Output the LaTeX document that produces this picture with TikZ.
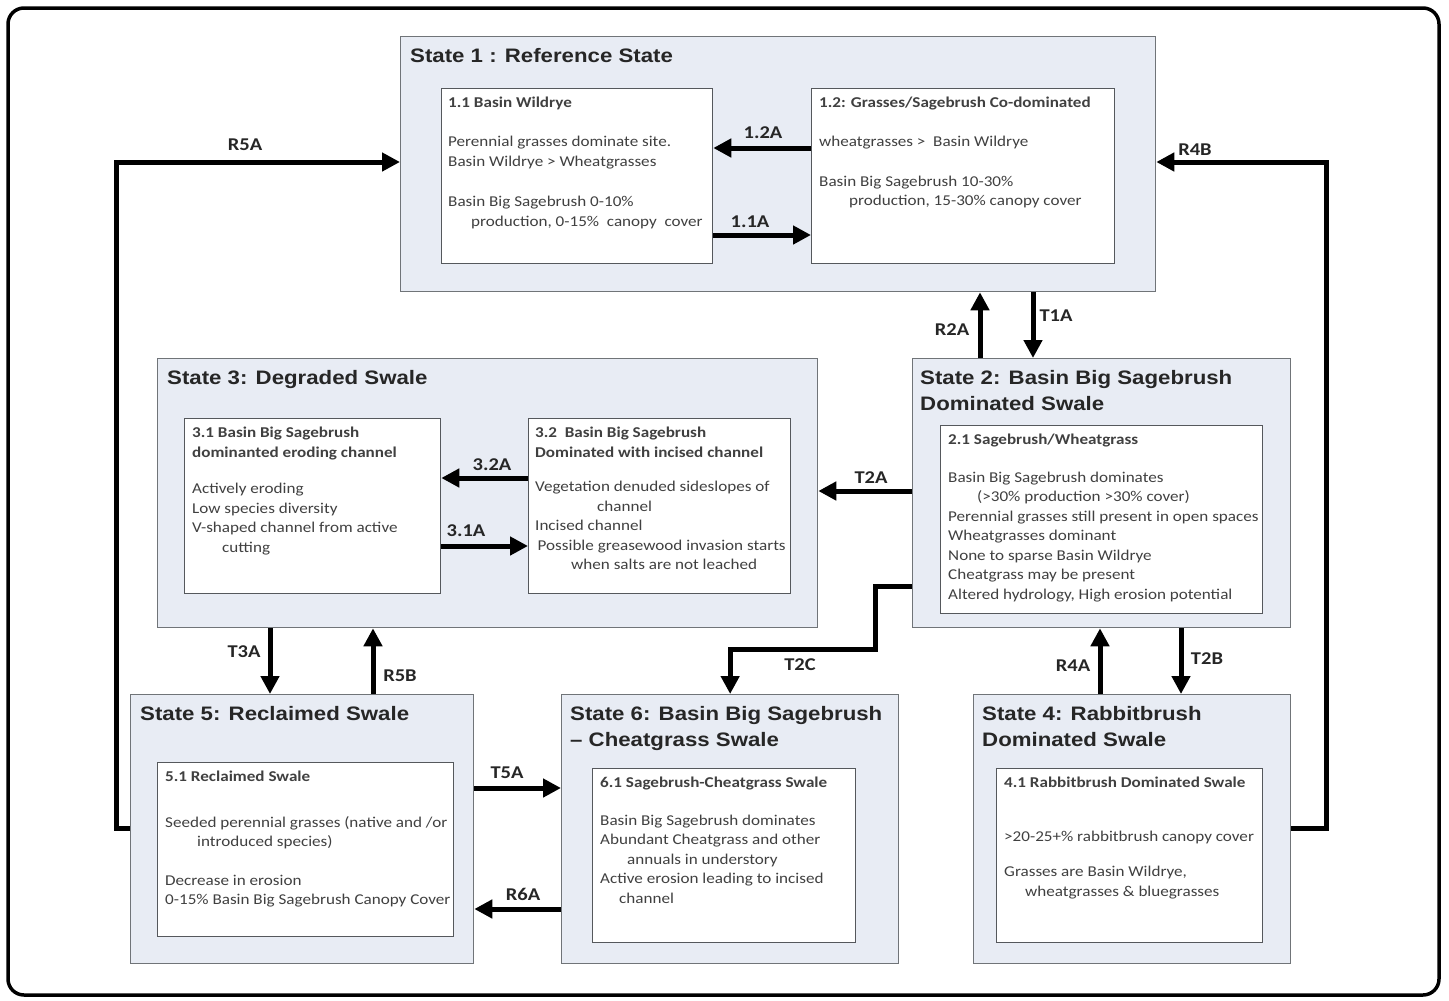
\documentclass[tikz,border=0pt]{standalone}
\usepackage{fontspec}
\setmainfont{Carlito}[FakeStretch=1.14]
\newfontfamily\headfont{Liberation Sans}[FakeStretch=1.14]
\usetikzlibrary{positioning,arrows.meta}

\definecolor{statefill}{HTML}{E8ECF4}
\definecolor{stateline}{HTML}{707478}
\definecolor{boxline}{HTML}{55585C}
\definecolor{txtgray}{HTML}{404040}

\tikzset{
  statebox/.style={draw=stateline, fill=statefill, line width=1.3pt, inner sep=0pt, anchor=north west},
  phasebox/.style={draw=boxline, fill=white, line width=1.3pt, inner sep=0pt, anchor=north west},
  statetitle/.style={font=\headfont\bfseries\fontsize{19.5}{26}\selectfont, text=black!85, anchor=north west, align=left, inner sep=0pt},
  phasetext/.style={font=\fontsize{15}{19.5}\selectfont, text=txtgray, anchor=north west, align=left, inner sep=0pt},
  arr/.style={line width=5pt, -{Triangle[length=18pt,width=18pt]}},
  lbl/.style={font=\bfseries\fontsize{18}{18}\selectfont, text=black!85, inner sep=1pt},
}
\newcommand{\ind}[1]{\hspace*{#1pt}}

\begin{document}
\begin{tikzpicture}[x=1pt,y=-1pt]
\useasboundingbox (0,0) rectangle (1449,1001);
\draw[line width=3.5pt, rounded corners=16pt] (8,8) rectangle (1439,995);

% states
\node[statebox, minimum width=755pt, minimum height=255pt] (s1) at (400,36) {};
\node[statebox, minimum width=378pt, minimum height=269pt] (s2) at (912,358) {};
\node[statebox, minimum width=660pt, minimum height=269pt] (s3) at (157,358) {};
\node[statebox, minimum width=343pt, minimum height=269pt] (s5) at (130,694) {};
\node[statebox, minimum width=337pt, minimum height=269pt] (s6) at (561,694) {};
\node[statebox, minimum width=317pt, minimum height=269pt] (s4) at (973,694) {};

\node[statetitle, below right=12pt and 10pt of s1.north west] (s1t) {State 1 : Reference State};
\node[statetitle, below right=12pt and 8pt of s2.north west] (s2t) {State 2: Basin Big Sagebrush\\Dominated Swale};
\node[statetitle, below right=12pt and 10pt of s3.north west] (s3t) {State 3: Degraded Swale};
\node[statetitle, below right=12pt and 10pt of s5.north west] (s5t) {State 5: Reclaimed Swale};
\node[statetitle, below right=12pt and 9pt of s6.north west] (s6t) {State 6: Basin Big Sagebrush\\– Cheatgrass Swale};
\node[statetitle, below right=12pt and 9pt of s4.north west] (s4t) {State 4: Rabbitbrush\\Dominated Swale};

% community phases
\node[phasebox, minimum width=271pt, minimum height=175pt] (b11) at (441,88) {};
\node[phasebox, minimum width=303pt, minimum height=175pt] (b12) at (811,88) {};
\node[phasebox, minimum width=322pt, minimum height=188pt] (b21) at (940,425) {};
\node[phasebox, minimum width=256pt, minimum height=175pt] (b31) at (184,418) {};
\node[phasebox, minimum width=262pt, minimum height=175pt] (b32) at (528,418) {};
\node[phasebox, minimum width=296pt, minimum height=174pt] (b51) at (157,762) {};
\node[phasebox, minimum width=263pt, minimum height=174pt] (b61) at (592,768) {};
\node[phasebox, minimum width=266pt, minimum height=174pt] (b41) at (996,768) {};

\node[phasetext, below right=9pt and 7pt of b11.north west] (t11) {\textbf{1.1 Basin Wildrye}\\[19.5pt]
  Perennial grasses dominate site.\\Basin Wildrye > Wheatgrasses\\[21pt]
  Basin Big Sagebrush 0-10\%\\\ind{23}production, 0-15\%\ \ canopy\ \ cover};
\node[phasetext, below right=9pt and 8pt of b12.north west] (t12) {\textbf{1.2: Grasses/Sagebrush Co-dominated}\\[19.5pt]
  wheatgrasses >\ \ Basin Wildrye\\[20pt]
  Basin Big Sagebrush 10-30\%\\\ind{30}production, 15-30\% canopy cover};
\node[phasetext, below right=9pt and 8pt of b21.north west] (t21) {\textbf{2.1 Sagebrush/Wheatgrass}\\[18pt]
  Basin Big Sagebrush dominates\\\ind{29}(>30\% production >30\% cover)\\
  Perennial grasses still present in open spaces\\Wheatgrasses dominant\\
  None to sparse Basin Wildrye\\Cheatgrass may be present\\
  Altered hydrology, High erosion potential};
\node[phasetext, below right=9pt and 8pt of b31.north west] (t31) {\textbf{3.1 Basin Big Sagebrush}\\\textbf{dominanted eroding channel}\\[17pt]
  Actively eroding\\Low species diversity\\V-shaped channel from active\\\ind{30}cutting};
\node[phasetext, below right=9pt and 7pt of b32.north west] (t32) {\textbf{3.2\ \ Basin Big Sagebrush}\\\textbf{Dominated with incised channel}\\[15pt]
  Vegetation denuded sideslopes of\\\ind{62}channel\\Incised channel\\
  \,Possible greasewood invasion starts\\\ind{36}when salts are not leached};
\node[phasetext, below right=9pt and 8pt of b51.north west] (t51) {\textbf{5.1 Reclaimed Swale}\\[26pt]
  Seeded perennial grasses (native and /or\\\ind{32}introduced species)\\[19pt]
  Decrease in erosion\\0-15\% Basin Big Sagebrush Canopy Cover};
\node[phasetext, below right=9pt and 8pt of b61.north west] (t61) {\textbf{6.1 Sagebrush-Cheatgrass Swale}\\[18pt]
  Basin Big Sagebrush dominates\\Abundant Cheatgrass and other\\\ind{27}annuals in understory\\
  Active erosion leading to incised\\\ind{19}channel};
\node[phasetext, below right=9pt and 8pt of b41.north west] (t41) {\textbf{4.1 Rabbitbrush Dominated Swale}\\[34pt]
  >20-25+\% rabbitbrush canopy cover\\[16pt]
  Grasses are Basin Wildrye,\\\ind{21}wheatgrasses \& bluegrasses};

% pathways
\draw[arr] (b12.west |- 0,148) -- (b11.east |- 0,148);
\draw[arr] (b11.east |- 0,235) -- (b12.west |- 0,235);
\draw[arr] (b32.west |- 0,478) -- (b31.east |- 0,478);
\draw[arr] (b31.east |- 0,546) -- (b32.west |- 0,546);
\draw[arr] (s2.north -| 980,0) -- (s1.south -| 980,0);
\draw[arr] (s1.south -| 1033,0) -- (s2.north -| 1033,0);
\draw[arr] (s2.west |- 0,491) -- (s3.east |- 0,491);
\draw[arr] (s2.west |- 0,586) -- (875,586) -- (875,649) -- (s6.north |- 0,649) -- (s6.north);
\draw[arr] (s3.south -| 270,0) -- (s5.north -| 270,0);
\draw[arr] (s5.north -| 373,0) -- (s3.south -| 373,0);
\draw[arr] (s5.east |- 0,788) -- (s6.west |- 0,788);
\draw[arr] (s6.west |- 0,909) -- (s5.east |- 0,909);
\draw[arr] (s4.north -| 1100,0) -- (s2.south -| 1100,0);
\draw[arr] (s2.south -| 1181,0) -- (s4.north -| 1181,0);
\draw[arr] (s5.west |- 0,828) -- (116,828) -- (116,162) -- (s1.west |- 0,162);
\draw[arr] (s4.east |- 0,828) -- (1326,828) -- (1326,162) -- (s1.east |- 0,162);

% labels
\node[lbl] (l12a) at (763,133) {1.2A};
\node[lbl] (l11a) at (750,222) {1.1A};
\node[lbl] (l32a) at (492,465) {3.2A};
\node[lbl] (l31a) at (466,531) {3.1A};
\node[lbl] (lr5a) at (245,145) {R5A};
\node[lbl] (lr4b) at (1195,150) {R4B};
\node[lbl] (lr2a) at (952,330) {R2A};
\node[lbl] (lt1a) at (1056,316) {T1A};
\node[lbl] (lt2a) at (871,478) {T2A};
\node[lbl] (lt2c) at (800,665) {T2C};
\node[lbl] (lt3a) at (244,652) {T3A};
\node[lbl] (lr5b) at (400,676) {R5B};
\node[lbl] (lr4a) at (1073,666) {R4A};
\node[lbl] (lt2b) at (1207,659) {T2B};
\node[lbl] (lt5a) at (507,773) {T5A};
\node[lbl] (lr6a) at (523,894) {R6A};
\end{tikzpicture}
\end{document}
